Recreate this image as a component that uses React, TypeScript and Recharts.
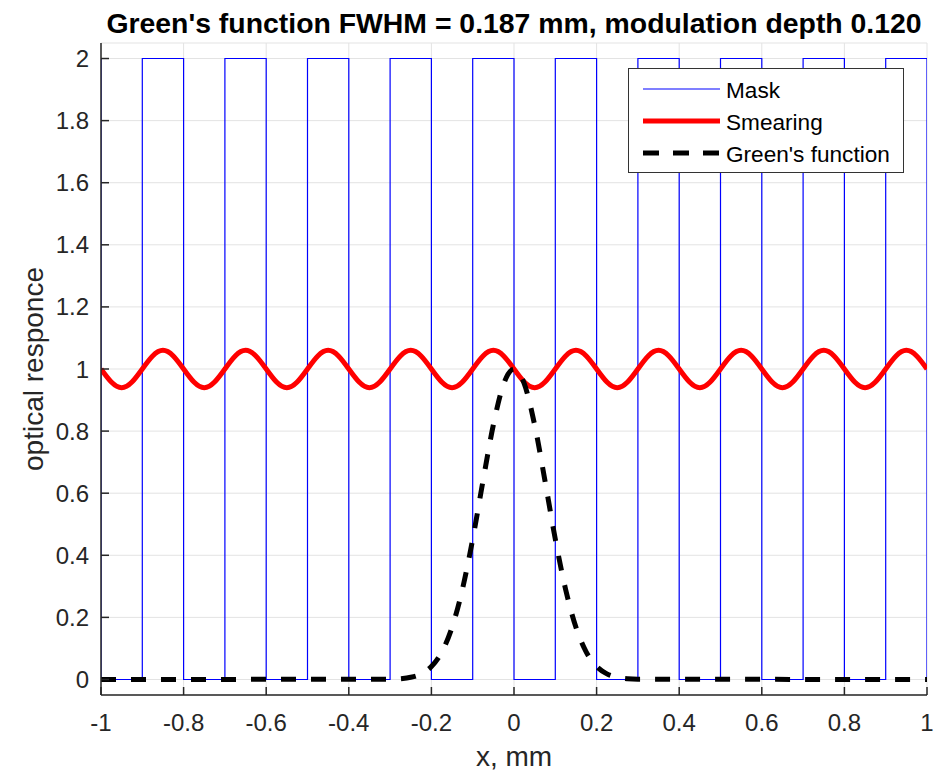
import { ComposedChart, Line, XAxis, YAxis, CartesianGrid } from 'recharts';

const FONT = '"Liberation Sans", Arial, Helvetica, sans-serif';
const AXIS_COLOR = '#262626';

const xTicks = [-1, -0.8, -0.6, -0.4, -0.2, 0, 0.2, 0.4, 0.6, 0.8, 1];
const yTicks = [0, 0.2, 0.4, 0.6, 0.8, 1, 1.2, 1.4, 1.6, 1.8, 2];

// Mask: corners of the square wave (0 / 2)
const maskX = [
  -1, -1, -0.9, -0.9, -0.8, -0.8, -0.7, -0.7, -0.6, -0.6, -0.5, -0.5, -0.4, -0.4,
  -0.3, -0.3, -0.2, -0.2, -0.1, -0.1, 0, 0, 0.1, 0.1, 0.2, 0.2, 0.3, 0.3, 0.4, 0.4,
  0.5, 0.5, 0.6, 0.6, 0.7, 0.7, 0.8, 0.8, 0.9, 0.9, 1, 1,
];
const maskY = [
  2, 0, 0, 2, 2, 0, 0, 2, 2, 0, 0, 2, 2, 0, 0, 2, 2, 0, 0, 2, 2, 0, 0, 2, 2, 0, 0, 2,
  2, 0, 0, 2, 2, 0, 0, 2, 2, 0, 0, 2, 2, 0,
];

// Smearing: read every 0.025 mm
const smearX = [
  -1, -0.975, -0.95, -0.925, -0.9, -0.875, -0.85, -0.825,
  -0.8, -0.775, -0.75, -0.725, -0.7, -0.675, -0.65, -0.625,
  -0.6, -0.575, -0.55, -0.525, -0.5, -0.475, -0.45, -0.425,
  -0.4, -0.375, -0.35, -0.325, -0.3, -0.275, -0.25, -0.225,
  -0.2, -0.175, -0.15, -0.125, -0.1, -0.075, -0.05, -0.025,
  0, 0.025, 0.05, 0.075, 0.1, 0.125, 0.15, 0.175,
  0.2, 0.225, 0.25, 0.275, 0.3, 0.325, 0.35, 0.375,
  0.4, 0.425, 0.45, 0.475, 0.5, 0.525, 0.55, 0.575,
  0.6, 0.625, 0.65, 0.675, 0.7, 0.725, 0.75, 0.775,
  0.8, 0.825, 0.85, 0.875, 0.9, 0.925, 0.95, 0.975,
  1,
];
const smearY = [
  1, 0.958, 0.94, 0.958, 1, 1.042, 1.06, 1.042,
  1, 0.958, 0.94, 0.958, 1, 1.042, 1.06, 1.042,
  1, 0.958, 0.94, 0.958, 1, 1.042, 1.06, 1.042,
  1, 0.958, 0.94, 0.958, 1, 1.042, 1.06, 1.042,
  1, 0.958, 0.94, 0.958, 1, 1.042, 1.06, 1.042,
  1, 0.958, 0.94, 0.958, 1, 1.042, 1.06, 1.042,
  1, 0.958, 0.94, 0.958, 1, 1.042, 1.06, 1.042,
  1, 0.958, 0.94, 0.958, 1, 1.042, 1.06, 1.042,
  1, 0.958, 0.94, 0.958, 1, 1.042, 1.06, 1.042,
  1, 0.958, 0.94, 0.958, 1, 1.042, 1.06, 1.042,
  1,
];

// Green's function (gaussian, FWHM 0.187)
const greenX = [
  -1, -0.3, -0.275, -0.25, -0.225, -0.2, -0.175, -0.15, -0.125, -0.1, -0.075, -0.05, -0.025,
  0, 0.025, 0.05, 0.075, 0.1, 0.125, 0.15, 0.175, 0.2, 0.225, 0.25, 0.275, 0.3, 1,
];
const greenY = [
  0, 0.001, 0.0025, 0.007, 0.018, 0.042, 0.088, 0.168, 0.29, 0.452, 0.64, 0.82, 0.952,
  1, 0.952, 0.82, 0.64, 0.452, 0.29, 0.168, 0.088, 0.042, 0.018, 0.007, 0.0025, 0.001, 0,
];

const maskData = maskX.map((x, i) => ({ x, y: maskY[i] }));
const smearData = smearX.map((x, i) => ({ x, y: smearY[i] }));
const greenData = greenX.map((x, i) => ({ x, y: greenY[i] }));

const W = 943;
const H = 774;

const tickStyle = { fill: AXIS_COLOR, fontSize: 24, fontFamily: FONT };

export default function App() {
  return (
    <div style={{ position: 'absolute', left: 0, top: 0, width: W, height: H, background: '#fff' }}>
      <ComposedChart
        width={W}
        height={H}
        margin={{ top: 43, right: 16, left: 0, bottom: 0 }}
      >
        <CartesianGrid stroke="#e3e3e3" strokeWidth={1} />
        <XAxis
          type="number"
          dataKey="x"
          domain={[-1, 1]}
          ticks={xTicks}
          interval={0}
          height={79}
          tickSize={-8}
          tickMargin={27}
          tick={tickStyle}
          axisLine={{ stroke: AXIS_COLOR, strokeWidth: 1.5 }}
          tickLine={{ stroke: AXIS_COLOR, strokeWidth: 1.5 }}
          allowDataOverflow
        />
        <YAxis
          type="number"
          dataKey="y"
          domain={[-0.05, 2.05]}
          ticks={yTicks}
          interval={0}
          width={101}
          tickSize={-8}
          tickMargin={20}
          tick={tickStyle}
          axisLine={{ stroke: AXIS_COLOR, strokeWidth: 1.5 }}
          tickLine={{ stroke: AXIS_COLOR, strokeWidth: 1.5 }}
          allowDataOverflow
        />
        <Line
          data={maskData}
          dataKey="y"
          type="linear"
          stroke="#0000ff"
          strokeWidth={1.2}
          dot={false}
          activeDot={false}
          isAnimationActive={false}
        />
        <Line
          data={smearData}
          dataKey="y"
          type="natural"
          stroke="#ff0000"
          strokeWidth={5}
          dot={false}
          activeDot={false}
          isAnimationActive={false}
        />
        <Line
          data={greenData}
          dataKey="y"
          type="monotone"
          stroke="#000000"
          strokeWidth={5}
          strokeDasharray="15 15"
          dot={false}
          activeDot={false}
          isAnimationActive={false}
        />
      </ComposedChart>

      {/* title, axis labels and legend on top */}
      <svg
        width={W}
        height={H}
        style={{ position: 'absolute', left: 0, top: 0, pointerEvents: 'none' }}
        fontFamily={FONT}
      >
        <text x={514} y={33} textAnchor="middle" fontSize={28.4} fontWeight="bold" fill="#000">
          Green's function FWHM = 0.187 mm, modulation depth 0.120
        </text>
        <text x={514} y={766} textAnchor="middle" fontSize={28} fill={AXIS_COLOR}>
          x, mm
        </text>
        <text
          transform="translate(43,369) rotate(-90)"
          textAnchor="middle"
          fontSize={28}
          fill={AXIS_COLOR}
        >
          optical responce
        </text>

        <rect x={628.5} y={68.5} width={275} height={104} fill="#fff" stroke="#333" strokeWidth={1} />
        <line x1={643} x2={720} y1={89} y2={89} stroke="#0000ff" strokeWidth={1.2} />
        <text x={726} y={97.5} fontSize={22.6} fill="#000">Mask</text>
        <line x1={643} x2={720} y1={121} y2={121} stroke="#ff0000" strokeWidth={5} />
        <text x={726} y={129.5} fontSize={22.6} fill="#000">Smearing</text>
        <line x1={643} x2={720} y1={153} y2={153} stroke="#000" strokeWidth={5} strokeDasharray="16 14" />
        <text x={726} y={161.5} fontSize={22.6} fill="#000">Green's function</text>
      </svg>
    </div>
  );
}
